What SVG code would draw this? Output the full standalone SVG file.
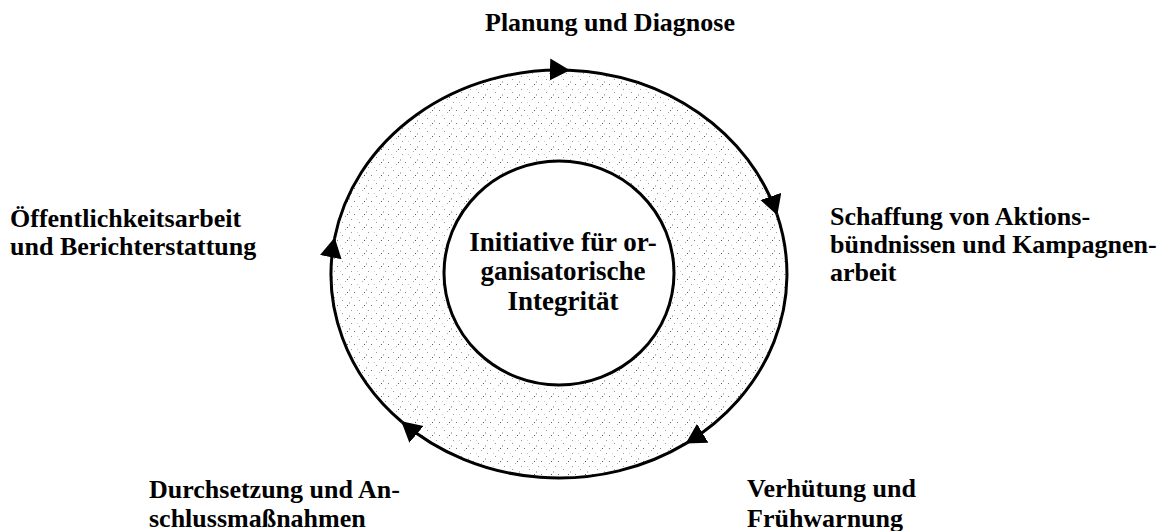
<svg xmlns="http://www.w3.org/2000/svg" width="1167" height="531" viewBox="0 0 1167 531">
<style>
  .lbl { font-family: "Liberation Serif", "Times New Roman", serif; font-weight: bold; font-size: 26px; fill: #000; }
  .ctr { font-family: "Liberation Serif", "Times New Roman", serif; font-weight: bold; font-size: 27px; fill: #000; text-anchor: middle; }
  .arc { fill: none; stroke: #000; stroke-width: 3; marker-end: url(#ah); }
</style>
<defs>
  <marker id="ah" markerUnits="userSpaceOnUse" markerWidth="24" markerHeight="24" refX="19" refY="11" orient="auto">
    <path d="M0,0 L20,11 L0,22 Z" fill="#000"/>
  </marker>
  <pattern id="stip" patternUnits="userSpaceOnUse" width="17" height="13">
    <rect x="2" y="1" width="1" height="1" fill="#999"/>
    <rect x="9" y="3" width="1" height="2" fill="#bbb"/>
    <rect x="14" y="6" width="1" height="1" fill="#777"/>
    <rect x="5" y="8" width="1" height="1" fill="#aaa"/>
    <rect x="11" y="11" width="1" height="1" fill="#999"/>
    <rect x="0" y="11" width="1" height="1" fill="#ccc"/>
    <rect x="7" y="6" width="1" height="1" fill="#555"/>
  </pattern>
</defs>
<rect width="1167" height="531" fill="#fff"/>
<g id="ring">
  <ellipse cx="559" cy="274" rx="228" ry="204" fill="url(#stip)"/>
</g>
<g id="connectors">
  <path class="arc" d="M334.5,238.6 A228,204 0 0 1 568.9,70.2"/>
  <path class="arc" d="M568.9,70.2 A228,204 0 0 1 777.0,214.4"/>
  <path class="arc" d="M777.0,214.4 A228,204 0 0 1 686.5,443.1"/>
  <path class="arc" d="M686.5,443.1 A228,204 0 0 1 402.0,422.0"/>
  <path class="arc" d="M402.0,422.0 A228,204 0 0 1 334.5,238.6"/>
</g>
<g id="center">
  <ellipse cx="559" cy="273" rx="115" ry="112" fill="#fff" stroke="#000" stroke-width="3"/>
  <text class="ctr" x="563" y="251">Initiative für or-</text>
  <text class="ctr" x="563" y="280">ganisatorische</text>
  <text class="ctr" x="563" y="310">Integrität</text>
</g>
<g id="planung">
  <text class="lbl" x="485" y="31">Planung und Diagnose</text>
</g>
<g id="schaffung">
  <text class="lbl" x="830" y="225">Schaffung von Aktions-</text>
  <text class="lbl" x="830" y="253">bündnissen und Kampagnen-</text>
  <text class="lbl" x="830" y="281">arbeit</text>
</g>
<g id="verhuetung">
  <text class="lbl" x="747" y="497">Verhütung und</text>
  <text class="lbl" x="747" y="527">Frühwarnung</text>
</g>
<g id="durchsetzung">
  <text class="lbl" x="149" y="498">Durchsetzung und An-</text>
  <text class="lbl" x="149" y="527">schlussmaßnahmen</text>
</g>
<g id="oeffentlichkeit">
  <text class="lbl" x="10" y="227">Öffentlichkeitsarbeit</text>
  <text class="lbl" x="10" y="255">und Berichterstattung</text>
</g>
</svg>
